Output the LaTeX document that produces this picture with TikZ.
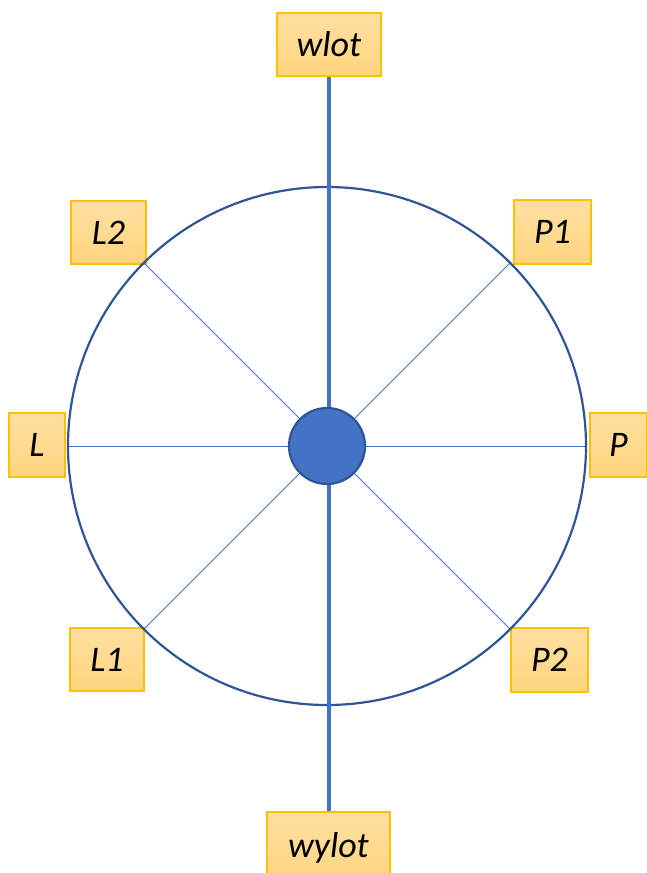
\documentclass[tikz,border=0pt]{standalone}
\usepackage{fontspec}
\setmainfont{Carlito}
\usetikzlibrary{calc}
\definecolor{boxtop}{HTML}{FFE0A2}
\definecolor{boxbot}{HTML}{FFD47E}
\definecolor{boxline}{HTML}{FFC000}
\definecolor{blueA}{HTML}{4472C4}
\definecolor{blueD}{HTML}{2F5597}
\tikzset{
  lbl/.style={draw=boxline, line width=1.2pt, top color=boxtop, bottom color=boxbot,
    inner sep=0pt, font=\fontsize{36}{38}\selectfont\itshape, text=black},
  spoke/.style={draw=blueA, line width=1pt},
}
\begin{document}
\begin{tikzpicture}[x=1pt,y=-1pt]
\useasboundingbox (0,0) rectangle (647,873);
\coordinate (c) at (327,446);
% labels
\node[lbl, minimum width=104pt, minimum height=63pt] (wlot) at (329,44.5) {wlot};
\node[lbl, minimum width=75pt, minimum height=63pt] (L2) at (108.5,232.5) {L2};
\node[lbl, minimum width=77pt, minimum height=64pt] (P1) at (552.5,232) {P1};
\node[lbl, minimum width=56pt, minimum height=64pt] (L) at (37,445) {L};
\node[lbl, minimum width=57pt, minimum height=64pt] (P) at (618.5,445) {P};
\node[lbl, minimum width=74pt, minimum height=63pt] (L1) at (107,659.5) {L1};
\node[lbl, minimum width=77pt, minimum height=64pt] (P2) at (549.5,660) {P2};
\node[lbl, minimum width=123pt, minimum height=71pt] (wylot) at (328.5,847.5) {wylot};
% spokes
\foreach \a/\n in {0/s0,45/s45,90/s90,135/s135,180/s180,225/s225,270/s270,315/s315}{
  \coordinate (\n) at ($(c)+(\a:259 and -259)$);
}
\draw[spoke] (c) -- (s0);
\draw[spoke] (c) -- (s45);
\draw[spoke] (c) -- (s135);
\draw[spoke] (c) -- (s180);
\draw[spoke] (c) -- (s225);
\draw[spoke] (c) -- (s315);
% circle
\node[draw=blueD, line width=2.2pt, circle, minimum size=518pt, inner sep=0pt] (ring) at (c) {};
% axis
\draw[draw=blueA, line width=4pt] (wlot.south) -- (wlot.south |- wylot.north);
% hub
\node[circle, fill=blueA, draw=blueD, line width=2.2pt, minimum size=76pt, inner sep=0pt] (hub) at (c) {};
\end{tikzpicture}
\end{document}
